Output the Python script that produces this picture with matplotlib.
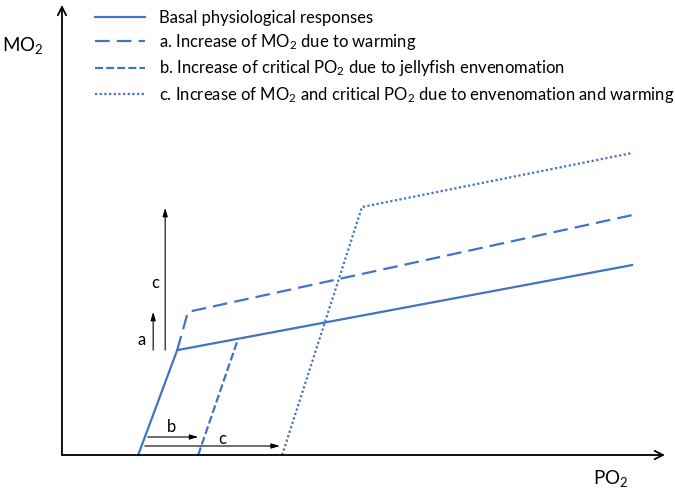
import matplotlib
matplotlib.use("Agg")
import matplotlib.pyplot as plt
from matplotlib.lines import Line2D

plt.rcParams['font.family'] = ['Lato', 'DejaVu Sans']
plt.rcParams['mathtext.default'] = 'regular'

# conceptual units: PO2 on x, MO2 on y
basal_po2 = [12.7, 19.2, 95.0]
basal_mo2 = [0.0, 23.3, 42.2]

warm_po2 = [19.2, 21.0, 95.0]
warm_mo2 = [23.3, 31.8, 53.3]

jelly_po2 = [22.7, 29.3]
jelly_mo2 = [0.0, 25.6]

both_po2 = [36.7, 50.0, 95.0]
both_mo2 = [0.0, 55.1, 67.1]

labels = [
    "Basal physiological responses",
    "a. Increase of MO$_2$ due to warming",
    "b. Increase of critical PO$_2$ due to jellyfish envenomation",
    "c. Increase of MO$_2$ and critical PO$_2$ due to envenomation and warming",
]

BLUE = "#4472C4"
LW = 1.6

fig = plt.figure(figsize=(6.75, 4.92), dpi=100)
ax = fig.add_axes([0, 0, 1, 1])
ax.set_xlim(-10.33, 102.17)
ax.set_ylim(-8.22, 101.1)
ax.axis("off")

ax.plot(basal_po2, basal_mo2, color=BLUE, lw=LW)
ax.plot(warm_po2, warm_mo2, color=BLUE, lw=LW, dashes=(6.6, 3.2))
ax.plot(jelly_po2, jelly_mo2, color=BLUE, lw=LW, dashes=(3.6, 1.4))
ax.plot(both_po2, both_mo2, color=BLUE, lw=LW, dashes=(1, 1.1))

# axes with arrow heads
axis_kw = dict(arrowstyle="->,head_length=0.6,head_width=0.3", color="black", lw=1.3,
               shrinkA=0, shrinkB=0)
ax.annotate("", xy=(0, 100), xytext=(0, 0), arrowprops=axis_kw)
ax.annotate("", xy=(100.5, 0), xytext=(0, 0), arrowprops=axis_kw)
ax.text(-10.0, 91, "MO$_2$", fontsize=13.5, va="center", ha="left")
ax.text(88.5, -5.3, "PO$_2$", fontsize=13.5, va="center", ha="left")

# effect arrows
eff_kw = dict(arrowstyle="-|>,head_length=0.5,head_width=0.15", color="black", lw=0.8,
              shrinkA=0, shrinkB=0)
ax.annotate("", xy=(15.2, 31.8), xytext=(15.2, 23.3), arrowprops=eff_kw)
ax.annotate("", xy=(17.2, 54.9), xytext=(17.2, 23.3), arrowprops=eff_kw)
ax.annotate("", xy=(22.7, 4.0), xytext=(14.3, 4.0), arrowprops=eff_kw)
ax.annotate("", xy=(36.3, 2.0), xytext=(13.8, 2.0), arrowprops=eff_kw)
ax.text(13.2, 25.6, "a", fontsize=12, ha="center", va="center")
ax.text(15.5, 38.2, "c", fontsize=12, ha="center", va="center")
ax.text(18.3, 6.2, "b", fontsize=12, ha="center", va="center")
ax.text(26.7, 3.6, "c", fontsize=12, ha="center", va="center")

handles = [
    Line2D([], [], color=BLUE, lw=LW),
    Line2D([], [], color=BLUE, lw=LW, dashes=(6.6, 3.2)),
    Line2D([], [], color=BLUE, lw=LW, dashes=(3.6, 1.4)),
    Line2D([], [], color=BLUE, lw=LW, dashes=(1, 1.1)),
]
ax.legend(handles, labels, loc="upper left", bbox_to_anchor=(0.1185, 1.01),
          frameon=False, fontsize=12, handlelength=3.0, handletextpad=0.85,
          labelspacing=0.37)

fig.savefig("out.png", dpi=100)
